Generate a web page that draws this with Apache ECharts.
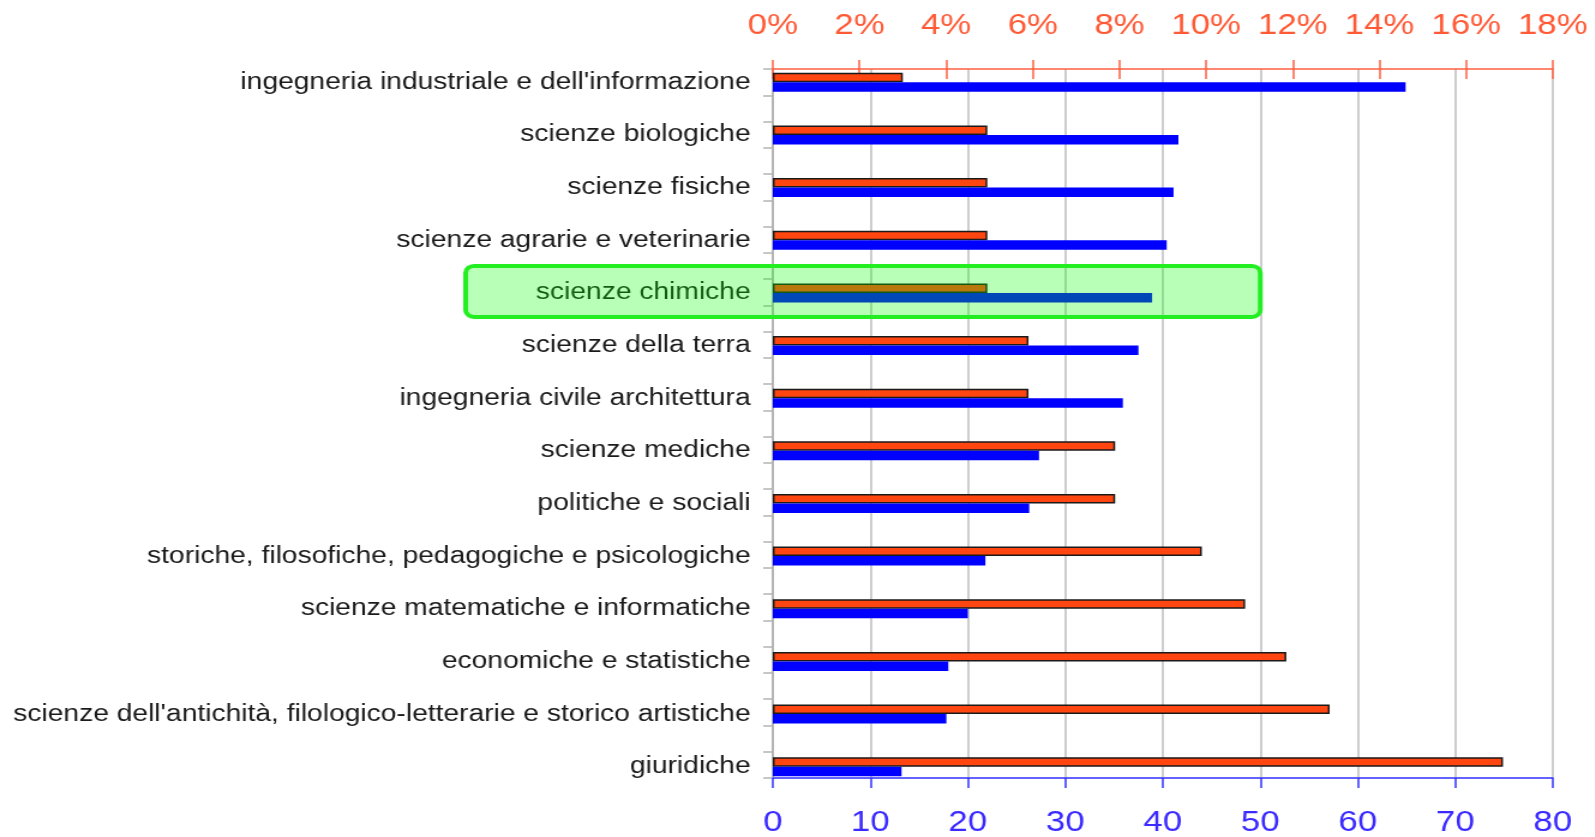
<!DOCTYPE html>
<html>
<head>
<meta charset="utf-8">
<title>Aree disciplinari</title>
<script src="https://cdn.jsdelivr.net/npm/echarts@6/dist/echarts.min.js"></script>
<style>
  html, body { margin: 0; padding: 0; background: #fff; overflow: hidden; }
  /* the reference is stretched sideways, so the chart is drawn narrower and scaled in x */
  #chart { height: 837px; transform: scaleX(1.2); transform-origin: 0 0; }
</style>
</head>
<body>
<div id="chart"></div>
<script>
  var STRETCH = 1.2;

  // categories, top to bottom
  var categories = [
    "ingegneria industriale e dell'informazione",
    'scienze biologiche',
    'scienze fisiche',
    'scienze agrarie e veterinarie',
    'scienze chimiche',
    'scienze della terra',
    'ingegneria civile architettura',
    'scienze mediche',
    'politiche e sociali',
    'storiche, filosofiche, pedagogiche e psicologiche',
    'scienze matematiche e informatiche',
    'economiche e statistiche',
    "scienze dell'antichità, filologico-letterarie e storico artistiche",
    'giuridiche'
  ];
  // red bars, top axis (%)
  var percentValues = [3.0, 4.95, 4.95, 4.95, 4.95, 5.9, 5.9, 7.9, 7.9, 9.9, 10.9, 11.85, 12.85, 16.85];
  // blue bars, bottom axis
  var countValues = [64.9, 41.6, 41.1, 40.4, 38.9, 37.5, 35.9, 27.3, 26.3, 21.8, 20.0, 18.0, 17.8, 13.2];
  var highlighted = 'scienze chimiche';
  var highlightUpTo = 50;   // box reaches to this value of the bottom axis

  var el = document.getElementById('chart');
  el.style.width = (1595 / STRETCH) + 'px';
  var myChart = echarts.init(el);

  var font = "'Liberation Sans', Arial, sans-serif";
  var left = 644, right = 35;

  myChart.setOption({
    animation: false,
    textStyle: { fontFamily: font },
    grid: [
      { left: left, right: right, top: 56, bottom: 44 },   // bars
      { left: left, right: right, top: 69, bottom: 57 }    // visible axes + grid lines
    ],
    xAxis: [
      { gridIndex: 0, type: 'value', min: 0, max: 80, show: false },
      { gridIndex: 0, type: 'value', min: 0, max: 18, show: false },
      {
        gridIndex: 1, type: 'value', position: 'bottom', min: 0, max: 80, interval: 10,
        axisLine: { show: true, lineStyle: { color: '#3030ff', width: 1.5 } },
        axisTick: { show: true, length: 10, lineStyle: { color: '#3030ff', width: 1.5 } },
        axisLabel: { color: '#3a2aff', fontSize: 29, margin: 30 },
        splitLine: { show: true, lineStyle: { color: '#bdbdbd', width: 1.5 } }
      },
      {
        gridIndex: 1, type: 'value', position: 'top', min: 0, max: 18, interval: 2,
        axisLine: { show: true, lineStyle: { color: '#ff6040', width: 1.5 } },
        axisTick: { show: true, length: 9, lineStyle: { color: '#ff6040', width: 1.5 } },
        axisLabel: { color: '#ff5a36', fontSize: 29, margin: 29, formatter: '{value}%' },
        splitLine: { show: false }
      },
      {
        // ticks of the top axis also reach down into the plot
        gridIndex: 1, type: 'value', position: 'top', min: 0, max: 18, interval: 2,
        axisLine: { show: false },
        axisTick: { show: true, inside: true, length: 10, lineStyle: { color: '#ff6040', width: 1.5 } },
        axisLabel: { show: false },
        splitLine: { show: false }
      }
    ],
    yAxis: [
      {
        gridIndex: 0, type: 'category', inverse: true, data: categories,
        axisLine: { show: false },
        axisTick: { show: false },
        axisLabel: { color: '#1a1a1a', fontSize: 23.5, margin: 18.5 }
      },
      {
        // gray axis line with its small ticks
        gridIndex: 1, type: 'category', data: new Array(27).fill(''),
        axisLine: { show: true, lineStyle: { color: '#b4b4b4', width: 2 } },
        axisTick: { show: true, length: 8, lineStyle: { color: '#b4b4b4', width: 1.5 } },
        axisLabel: { show: false },
        splitLine: { show: false }
      }
    ],
    series: [
      {
        name: '%',
        type: 'bar',
        xAxisIndex: 1,
        yAxisIndex: 0,
        barWidth: 9.5,
        barGap: '0%',
        data: percentValues,
        itemStyle: { color: '#ff4510', borderColor: '#1a1a1a', borderWidth: 1.5 }
      },
      {
        name: 'n',
        type: 'bar',
        xAxisIndex: 0,
        yAxisIndex: 0,
        barWidth: 9.5,
        data: countValues,
        itemStyle: { color: '#0000ff' }
      }
    ]
  });

  // green highlight box over one category, placed from the axes
  var yc = myChart.convertToPixel({ yAxisIndex: 0 }, highlighted);
  var xr = myChart.convertToPixel({ xAxisIndex: 0 }, highlightUpTo);
  myChart.setOption({
    graphic: [{
      type: 'rect',
      z: 100,
      shape: { x: 388, y: yc - 27, width: xr - 388, height: 51, r: 7 },
      style: { fill: 'rgba(0,255,0,0.28)', stroke: '#22ee22', lineWidth: 4 }
    }]
  });

  window.onresize = function () { myChart.resize(); };
</script>
</body>
</html>
